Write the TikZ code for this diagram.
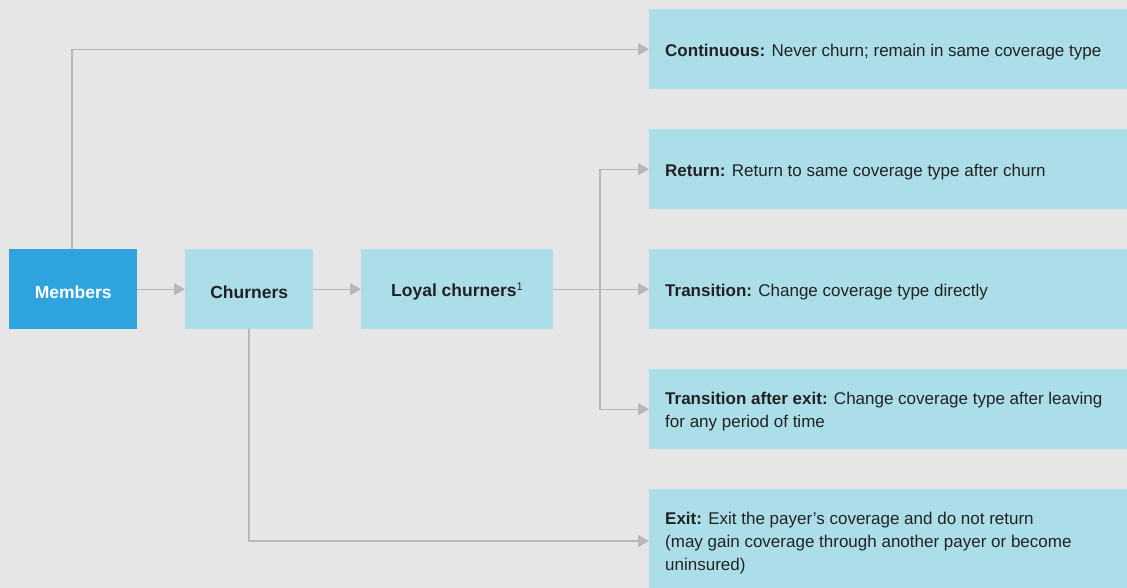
\documentclass[tikz,border=0pt]{standalone}
\usepackage{fontspec}
\setmainfont{Liberation Sans}
\usetikzlibrary{arrows.meta}
\definecolor{bg}{HTML}{E6E6E6}
\definecolor{dark}{HTML}{2EA3DD}
\definecolor{light}{HTML}{ACDEEA}
\definecolor{line}{HTML}{B8B8B8}
\definecolor{txt}{HTML}{222222}
\tikzset{
  box/.style={anchor=north west, fill=light, text=txt, minimum height=80pt, inner sep=0pt, font=\fontsize{17}{23}\selectfont,
    execute at begin node={\rule{0pt}{18pt}}},
  smallbox/.style={box, align=center, font=\fontsize{17.5}{23}\selectfont\bfseries,
    execute at begin node={\rule{0pt}{16pt}}},
  rbox/.style={box, minimum width=478pt, text width=446pt, inner xsep=16pt, align=flush left},
  arr/.style={draw=line, line width=1.2pt, -{Triangle[length=11pt,width=12pt]}}
}
\begin{document}
\begin{tikzpicture}[x=1pt,y=-1pt]
\fill[bg] (0,0) rectangle (1127,588);
\useasboundingbox (0,0) rectangle (1127,588);
\node[smallbox, fill=dark, text=white, minimum width=128pt] (mem) at (9,249) {Members};
\node[smallbox, minimum width=128pt] (chu) at (185,249) {Churners};
\node[smallbox, minimum width=192pt] (loy) at (361,249) {Loyal churners\textsuperscript{\normalfont\fontsize{11}{11}\selectfont 1}};
\node[rbox] (con) at (649,9) {\textbf{Continuous:} Never churn; remain in same coverage type};
\node[rbox] (ret) at (649,129) {\textbf{Return:} Return to same coverage type after churn};
\node[rbox] (tra) at (649,249) {\textbf{Transition:} Change coverage type directly};
\node[rbox] (tae) at (649,369) {\textbf{Transition after exit:} Change coverage type after leaving\\for any period of time};
\node[rbox, minimum height=99pt, execute at begin node={\rule{0pt}{22pt}}] (exi) at (649,489) {\textbf{Exit:} Exit the payer’s coverage and do not return\\(may gain coverage through another payer or become\\uninsured)};
\coordinate (memtop) at (72,249);
\coordinate (chubot) at (249,329);
\coordinate (br) at (600,289);
\coordinate (exin) at (649,541);
\draw[arr] (memtop) |- (con.west);
\draw[arr] (mem.east) -- (chu.west);
\draw[arr] (chu.east) -- (loy.west);
\draw[arr] (loy.east) -- (tra.west);
\draw[arr] (br) |- (ret.west);
\draw[arr] (br) |- (tae.west);
\draw[arr] (chubot) |- (exin);
\end{tikzpicture}
\end{document}
